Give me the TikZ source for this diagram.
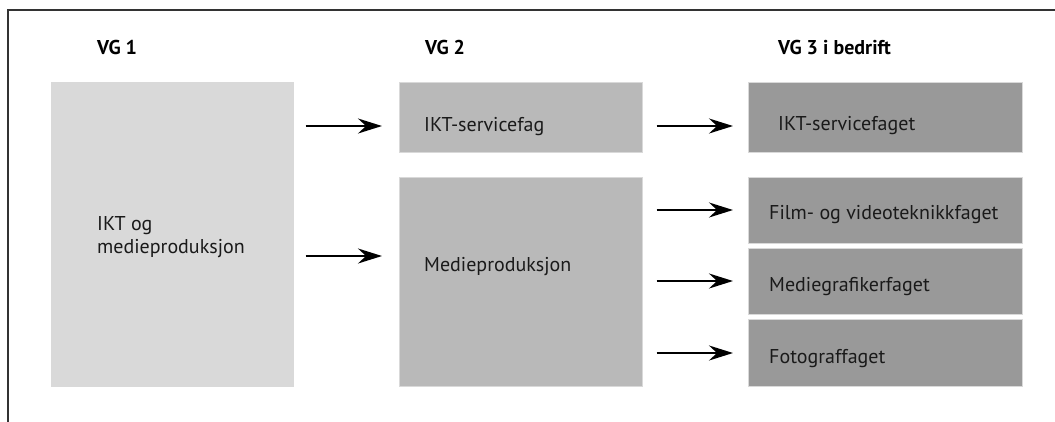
\documentclass[tikz,border=0pt]{standalone}
\usepackage{fontspec}
\setmainfont{PT Sans}
\usetikzlibrary{arrows.meta,calc}
\definecolor{g1}{HTML}{D9D9D9}
\definecolor{g2}{HTML}{B9B9B9}
\definecolor{g3}{HTML}{999999}
\definecolor{frame}{HTML}{333333}
\definecolor{txt}{HTML}{1A1A1A}
\tikzset{
  box/.style={draw=white!85!black, line width=0.6pt, inner sep=0pt, anchor=north west},
  lbl/.style={anchor=base west, inner sep=0pt, text=txt, font=\fontsize{20}{23}\selectfont},
  head/.style={anchor=base west, inner sep=0pt, font=\bfseries\fontsize{20}{23}\selectfont},
  arr/.style={line width=2pt, -{Stealth[length=24pt,width=15pt,inset=8pt]}}
}
\begin{document}
\begin{tikzpicture}[x=1pt,y=-1pt]
\useasboundingbox (0,0) rectangle (1055,421);
% frame
\draw[frame, line width=2pt] (8,430) -- (8,10) -- (1065,10);
% headings
\node[head] (h1) at (97,54) {VG 1};
\node[head] (h2) at (425,54) {VG 2};
\node[head] (h3) at (778,54) {VG 3 i bedrift};
% boxes
\node[box, fill=g1, minimum width=242pt, minimum height=304pt] (b1) at (51,82) {};
\node[box, fill=g2, minimum width=243pt, minimum height=70pt] (s1) at (399,82) {};
\node[box, fill=g2, minimum width=243pt, minimum height=209pt] (s2) at (399,177) {};
\node[box, fill=g3, minimum width=274pt, minimum height=70pt] (r1) at (748,82) {};
\node[box, fill=g3, minimum width=274pt, minimum height=66pt] (r2) at (748,177) {};
\node[box, fill=g3, minimum width=274pt, minimum height=66pt] (r3) at (748,248) {};
\node[box, fill=g3, minimum width=274pt, minimum height=67pt] (r4) at (748,319) {};
% labels
\node[lbl] (tb1a) at (97,230) {IKT og};
\node[lbl] (tb1b) at (97,253) {medieproduksjon};
\node[lbl] (ts1) at (424,131) {IKT-servicefag};
\node[lbl] (ts2) at (424,271) {Medieproduksjon};
\node[lbl] (tr1) at (778,130) {IKT-servicefaget};
\node[lbl] (tr2) at (769,219) {Film- og videoteknikkfaget};
\node[lbl] (tr3) at (769,291) {Mediegrafikerfaget};
\node[lbl] (tr4) at (769,363) {Fotograffaget};
% arrow levels
\coordinate (y1) at (0,126);
\coordinate (y2) at (0,256);
\coordinate (y3) at (0,210);
\coordinate (y4) at (0,281);
\coordinate (y5) at (0,353);
% arrows
\draw[arr, shorten <=12pt, shorten >=17pt] (b1.east |- y1) -- (s1.west |- y1);
\draw[arr, shorten <=12pt, shorten >=17pt] (b1.east |- y2) -- (s2.west |- y2);
\draw[arr, shorten <=14pt, shorten >=15pt] (s1.east |- y1) -- (r1.west |- y1);
\draw[arr, shorten <=14pt, shorten >=15pt] (s2.east |- y3) -- (r2.west |- y3);
\draw[arr, shorten <=14pt, shorten >=15pt] (s2.east |- y4) -- (r3.west |- y4);
\draw[arr, shorten <=14pt, shorten >=15pt] (s2.east |- y5) -- (r4.west |- y5);
\end{tikzpicture}
\end{document}
